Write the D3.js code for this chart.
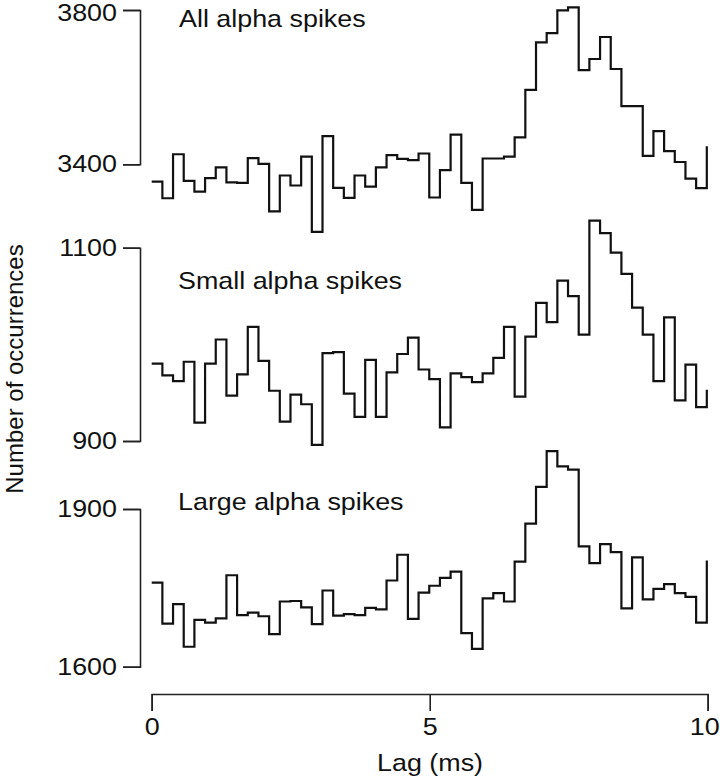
<!DOCTYPE html>
<html>
<head>
<meta charset="utf-8">
<script src="https://cdn.jsdelivr.net/npm/d3@7"></script>
<style>
  html, body { margin: 0; padding: 0; background: #fff; }
  svg { display: block; font-family: "Liberation Sans", Arial, Helvetica, sans-serif; }
</style>
</head>
<body>
<svg id="chart" width="720" height="776"></svg>
<script>
// ---- data (counts per lag bin) ----
const lagBinMs = 0.192;            // bin width in ms
const xTicks = [0, 5, 10];
const xLabel = "Lag (ms)";
const yLabel = "Number of occurrences";

const panelTitles = ["All alpha spikes", "Small alpha spikes", "Large alpha spikes"];
const panelTicks = [[3400, 3800], [900, 1100], [1600, 1900]];

const allCounts = [3355, 3312, 3426, 3357, 3329, 3364, 3392, 3353, 3352, 3416,
                   3401, 3278, 3371, 3345, 3420, 3225, 3473, 3339, 3313, 3371,
                   3342, 3392, 3424, 3414, 3411, 3428, 3314, 3385, 3477, 3352,
                   3282, 3415, 3415, 3420, 3470, 3593, 3716, 3740, 3799, 3807,
                   3644, 3673, 3730, 3647, 3551, 3551, 3422, 3486, 3434, 3406,
                   3363, 3338, 3447];
const smallCounts = [980, 968, 962, 982, 919, 980, 1005, 947, 969, 1018,
                     983, 952, 920, 948, 938, 896, 991, 992, 949, 925,
                     984, 925, 971, 990, 1007, 974, 964, 914, 970, 966,
                     961, 970, 986, 1018, 946, 1008, 1043, 1023, 1066, 1050,
                     1010, 1128, 1115, 1095, 1073, 1038, 1010, 962, 1028, 942,
                     979, 935, 953];
const largeCounts = [1760, 1682, 1719, 1638, 1689, 1684, 1692, 1774, 1698, 1703,
                     1696, 1662, 1724, 1725, 1713, 1681, 1745, 1697, 1700, 1698,
                     1712, 1709, 1764, 1813, 1691, 1741, 1754, 1769, 1781, 1664,
                     1634, 1730, 1740, 1724, 1800, 1872, 1942, 2010, 1981, 1975,
                     1829, 1797, 1833, 1818, 1711, 1808, 1728, 1748, 1757, 1740,
                     1733, 1684, 1802];
const panelSeries = [allCounts, smallCounts, largeCounts];

// ---- layout ----
const sx = 1.12;               // horizontal text stretch of the original figure
const fontSize = 24;
const axisX = 140;
const panelRanges = [[164.3, 10], [441, 247.7], [666.7, 509]];
const titlePos = [[179, 27], [178, 289], [178, 510]];
const xAxisY = 694;
const tickLen = 17;

const svg = d3.select("#chart");
const x = d3.scaleLinear().domain([0, 10]).range([151.7, 707.7]);

panelSeries.forEach((series, k) => {
  const y = d3.scaleLinear().domain(panelTicks[k]).range(panelRanges[k]);
  const g = svg.append("g");

  const axis = d3.axisLeft(y)
    .tickValues(panelTicks[k])
    .tickSize(tickLen)
    .tickPadding(6)
    .tickFormat(d3.format("d"));
  const ag = g.append("g").attr("transform", `translate(${axisX},0)`).call(axis);
  ag.selectAll("path, line").attr("stroke", "#222").attr("stroke-width", 1.6);
  ag.selectAll("text")
    .attr("transform", `scale(${sx},1)`)
    .attr("x", -(tickLen + 6) / sx)
    .attr("font-size", fontSize)
    .attr("font-family", "Liberation Sans, Arial, sans-serif")
    .attr("fill", "#111")
    .attr("y", d => (k === 0 && d === panelTicks[0][1]) ? 2.5 : 0);

  const line = d3.line()
    .curve(d3.curveStepAfter)
    .x((d, i) => x(i * lagBinMs))
    .y(d => y(d));
  g.append("path")
    .datum(series)
    .attr("d", line)
    .attr("fill", "none")
    .attr("stroke", "#111")
    .attr("stroke-width", 2.2)
    .attr("stroke-linejoin", "miter");

  g.append("text")
    .attr("transform", `translate(${titlePos[k][0]},${titlePos[k][1]}) scale(${sx},1)`)
    .attr("font-size", fontSize)
    .attr("fill", "#111")
    .text(panelTitles[k]);
});

// x axis
const xa = svg.append("g")
  .attr("transform", `translate(0,${xAxisY})`)
  .call(d3.axisBottom(x).tickValues(xTicks).tickSize(tickLen).tickPadding(7).tickFormat(d3.format("d")));
xa.selectAll("path, line").attr("stroke", "#222").attr("stroke-width", 1.6);
xa.selectAll("text")
  .attr("font-size", fontSize)
  .attr("font-family", "Liberation Sans, Arial, sans-serif")
  .attr("fill", "#111")
  .attr("transform", `scale(${sx},1)`)
  .attr("x", d => d === 10 ? -3.5 / sx : 0);

svg.append("text")
  .attr("transform", `translate(430,771) scale(${sx},1)`)
  .attr("text-anchor", "middle")
  .attr("font-size", fontSize)
  .attr("fill", "#111")
  .text(xLabel);

svg.append("text")
  .attr("transform", "translate(22.5,369) rotate(-90)")
  .attr("text-anchor", "middle")
  .attr("font-size", fontSize)
  .attr("fill", "#111")
  .text(yLabel);
</script>
</body>
</html>
